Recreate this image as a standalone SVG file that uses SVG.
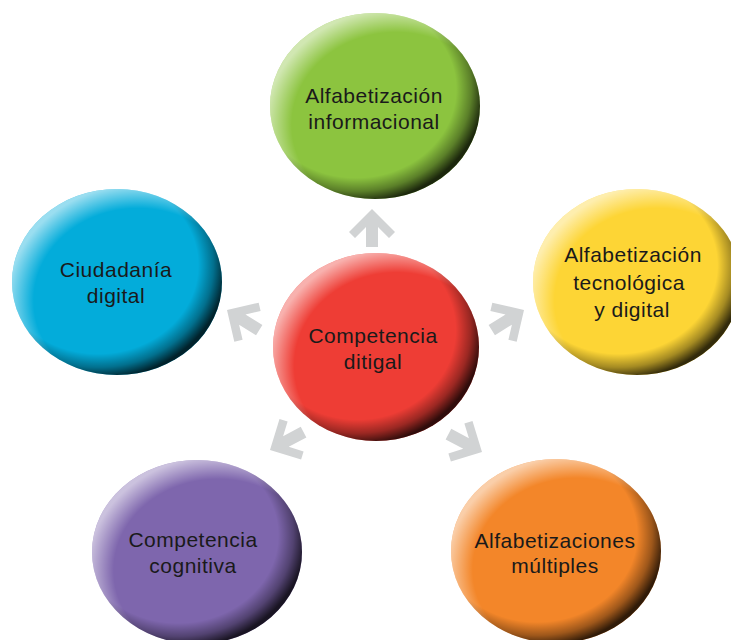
<svg xmlns="http://www.w3.org/2000/svg" width="731" height="640" viewBox="0 0 731 640">
<style>
text{font-family:"Liberation Sans",Arial,sans-serif;font-size:21px;fill:#1a1a1a;text-anchor:middle;letter-spacing:0.5px}
.arrow{fill:#d1d3d4}
</style>
<defs>
<radialGradient id="shade" cx="0.41" cy="0.41" r="0.61">
<stop offset="0.78" stop-color="#000" stop-opacity="0"/>
<stop offset="0.9" stop-color="#000" stop-opacity="0.35"/>
<stop offset="1" stop-color="#000" stop-opacity="0.8"/>
</radialGradient>
<radialGradient id="hl" cx="0.6" cy="0.6" r="0.62">
<stop offset="0.8" stop-color="#fff" stop-opacity="0"/>
<stop offset="1" stop-color="#fff" stop-opacity="0.6"/>
</radialGradient>
<path id="arr" d="M0,0 L23,23 L17,29 L6,18 L6,38 L-6,38 L-6,18 L-17,29 L-23,23 Z"/>
</defs>
<rect width="731" height="640" fill="#fff"/>
<g id="connectors">
<use href="#arr" class="arrow" transform="translate(372,209)"/>
<use href="#arr" class="arrow" transform="translate(227,310) rotate(-58)"/>
<use href="#arr" class="arrow" transform="translate(524,310) rotate(58)"/>
<use href="#arr" class="arrow" transform="translate(270,450) rotate(-118)"/>
<use href="#arr" class="arrow" transform="translate(482,452) rotate(118)"/>
</g>
<g id="green">
<ellipse cx="375" cy="106" rx="105" ry="93" fill="#8cc43f"/>
<ellipse cx="375" cy="106" rx="105" ry="93" fill="url(#shade)"/>
<ellipse cx="375" cy="106" rx="105" ry="93" fill="url(#hl)"/>
<text x="374" y="103">Alfabetización</text>
<text x="374" y="129">informacional</text>
</g>
<g id="blue">
<ellipse cx="117" cy="282" rx="105" ry="93" fill="#03acda"/>
<ellipse cx="117" cy="282" rx="105" ry="93" fill="url(#shade)"/>
<ellipse cx="117" cy="282" rx="105" ry="93" fill="url(#hl)"/>
<text x="116" y="277">Ciudadanía</text>
<text x="116" y="303">digital</text>
</g>
<g id="yellow">
<ellipse cx="637" cy="282" rx="104" ry="93" fill="#fdd535"/>
<ellipse cx="637" cy="282" rx="104" ry="93" fill="url(#shade)"/>
<ellipse cx="637" cy="282" rx="104" ry="93" fill="url(#hl)"/>
<text x="633" y="262">Alfabetización</text>
<text x="629" y="290">tecnológica</text>
<text x="632" y="317">y digital</text>
</g>
<g id="red">
<ellipse cx="376" cy="347" rx="103" ry="94" fill="#ee3d35"/>
<ellipse cx="376" cy="347" rx="103" ry="94" fill="url(#shade)"/>
<ellipse cx="376" cy="347" rx="103" ry="94" fill="url(#hl)"/>
<text x="373" y="343">Competencia</text>
<text x="373" y="369">ditigal</text>
</g>
<g id="purple">
<ellipse cx="197" cy="552" rx="105" ry="92" fill="#7e66ad"/>
<ellipse cx="197" cy="552" rx="105" ry="92" fill="url(#shade)"/>
<ellipse cx="197" cy="552" rx="105" ry="92" fill="url(#hl)"/>
<text x="193" y="547">Competencia</text>
<text x="193" y="573">cognitiva</text>
</g>
<g id="orange">
<ellipse cx="556" cy="551" rx="105" ry="92" fill="#f38629"/>
<ellipse cx="556" cy="551" rx="105" ry="92" fill="url(#shade)"/>
<ellipse cx="556" cy="551" rx="105" ry="92" fill="url(#hl)"/>
<text x="555" y="548">Alfabetizaciones</text>
<text x="555" y="573">múltiples</text>
</g>
</svg>
